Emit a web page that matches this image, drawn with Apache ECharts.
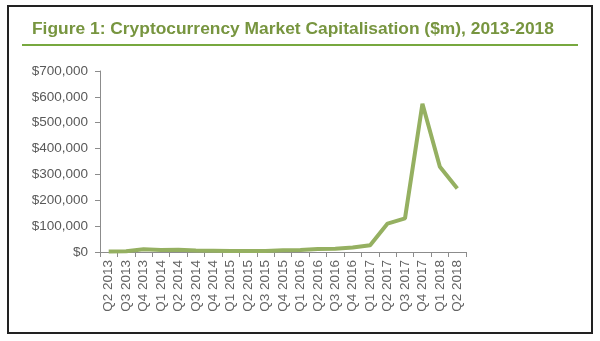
<!DOCTYPE html>
<html><head><meta charset="utf-8">
<script src="https://cdn.jsdelivr.net/npm/echarts@6/dist/echarts.min.js"></script>
<style>html,body{margin:0;padding:0;background:#fff}#c{width:600px;height:341px}</style>
</head><body><div id="c"></div>
<script>
const categories = ["Q2 2013","Q3 2013","Q4 2013","Q1 2014","Q2 2014","Q3 2014","Q4 2014","Q1 2015","Q2 2015","Q3 2015","Q4 2015","Q1 2016","Q2 2016","Q3 2016","Q4 2016","Q1 2017","Q2 2017","Q3 2017","Q4 2017","Q1 2018","Q2 2018"];
const marketCap = [1500, 2500, 11000, 8000, 8500, 6000, 5000, 3500, 3800, 4000, 6500, 7500, 12000, 13000, 17000, 26000, 110000, 130000, 573000, 330000, 246000];
const yTicks = [0, 100000, 200000, 300000, 400000, 500000, 600000, 700000];

const chart = echarts.init(document.getElementById('c'), null, {renderer:'canvas'});
chart.setOption({
  animation:false,
  title:{text:'Figure 1: Cryptocurrency Market Capitalisation ($m), 2013-2018', left:27, top:16, padding:[5,5,5,5],
    textStyle:{fontFamily:'Liberation Sans', fontWeight:'bold', fontSize:17.4, color:'#77953f'}},
  graphic:[
    {type:'rect', shape:{x:8,y:6,width:584,height:327}, style:{fill:'none', stroke:'#222', lineWidth:2}, silent:true},
    {type:'line', shape:{x1:22,y1:45,x2:578,y2:45}, style:{stroke:'#77a83f', lineWidth:2}, silent:true}
  ],
  grid:{left:100, right:134, top:71, bottom:89},
  xAxis:{type:'category', data:categories, boundaryGap:true,
    axisLine:{lineStyle:{color:'#8c8c8c'}},
    axisTick:{show:true, alignWithLabel:false, length:5, lineStyle:{color:'#8c8c8c'}},
    axisLabel:{rotate:90, interval:0, fontFamily:'Liberation Sans', fontSize:13.5, color:'#636363', margin:8}},
  yAxis:{type:'value', min:0, max:700000, interval:100000,
    axisLine:{show:true, lineStyle:{color:'#8c8c8c'}},
    axisTick:{show:true, length:5, lineStyle:{color:'#8c8c8c'}},
    splitLine:{show:false},
    axisLabel:{fontFamily:'Liberation Sans', fontSize:13.5, color:'#595959', margin:12,
      formatter:v => yTicks.includes(v) ? '$' + v.toLocaleString('en-US') : ''}},
  series:[{type:'line', data:marketCap, symbol:'none', smooth:false,
    lineStyle:{color:'#95b061', width:4}}]
});
</script></body></html>
